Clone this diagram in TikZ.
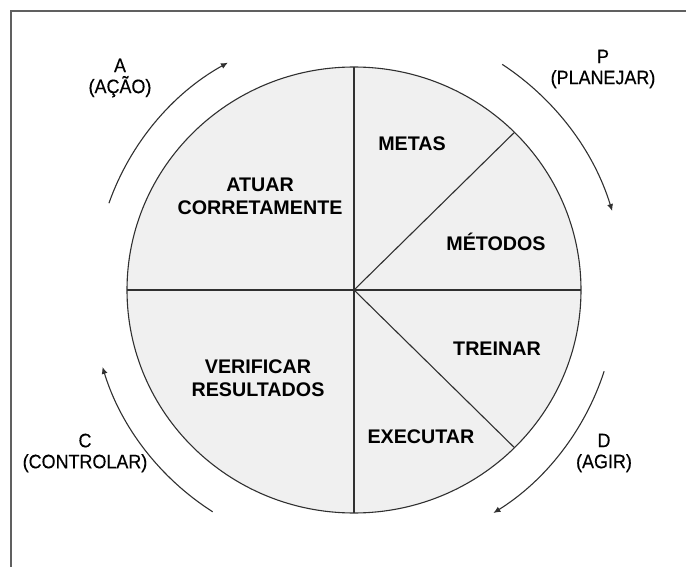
\documentclass[tikz,border=0pt]{standalone}
\usepackage{fontspec}
\setmainfont{Liberation Sans}
\newfontfamily\lblfont[FakeStretch=0.92,FakeBold=0.35]{Liberation Sans}
\usetikzlibrary{arrows.meta,calc}
\definecolor{fillgray}{HTML}{F0F0F0}
\definecolor{linegray}{HTML}{303030}
\definecolor{framegray}{HTML}{606060}
\begin{document}
\begin{tikzpicture}[x=1pt,y=-1pt,
  inner/.style={font=\fontsize{19.7}{23}\selectfont\bfseries, align=center, inner sep=0pt, text=black},
  outer/.style={font=\lblfont\fontsize{19.5}{21}\selectfont, align=center, inner sep=0pt, text=black},
  divline/.style={draw=linegray, line width=1.1pt},
  cyc/.style={draw=linegray, line width=1.1pt, -{Latex[length=7pt,width=6pt]}}]
\useasboundingbox (0,0) rectangle (686,567);
\draw[framegray, line width=1.2pt] (11,567) -- (11,11) -- (686,11);
\coordinate (c) at (354,290);
\fill[fillgray] (c) ellipse [x radius=227pt, y radius=223pt];
\coordinate (top) at (354,67);
\coordinate (bot) at (354,513);
\coordinate (lft) at (127,290);
\coordinate (rgt) at (581,290);
\coordinate (ne) at (514.5,132.3);
\coordinate (se) at (514.5,447.7);
\draw[divline] (top) -- (bot);
\draw[divline] (lft) -- (rgt);
\draw[divline] (c) -- (ne);
\draw[divline] (c) -- (se);
\draw[divline] (c) ellipse [x radius=227pt, y radius=223pt];
% inner labels
\node[inner] (metas) at (412,144) {METAS};
\node[inner] (metodos) at (496,242) {MÉTODOS};
\node[inner] (treinar) at (497,349) {TREINAR};
\node[inner] (executar) at (421,437) {EXECUTAR};
\node[inner] (atuar) at (260,196) {ATUAR\\CORRETAMENTE};
\node[inner] (verif) at (258,378) {VERIFICAR\\RESULTADOS};
% outer labels
\node[outer] (la) at (120,78) {A\\(AÇÃO)};
\node[outer] (lp) at (603,69) {P\\(PLANEJAR)};
\node[outer] (lc) at (85,453) {C\\(CONTROLAR)};
\node[outer] (ld) at (604,453) {D\\(AGIR)};
% cycle arcs
\coordinate (pS) at ($(c)+(56.7:270pt)$);
\coordinate (dS) at ($(c)+(-18:263pt)$);
\coordinate (cS) at ($(c)+(237.5:263pt)$);
\coordinate (aS) at ($(c)+(160.5:260pt)$);
\draw[cyc] (pS) arc[start angle=56.7, end angle=17, radius=270pt];
\draw[cyc] (dS) arc[start angle=-18, end angle=-58, radius=263pt];
\draw[cyc] (cS) arc[start angle=237.5, end angle=197, radius=263pt];
\draw[cyc] (aS) arc[start angle=160.5, end angle=119, radius=260pt];
\end{tikzpicture}
\end{document}
